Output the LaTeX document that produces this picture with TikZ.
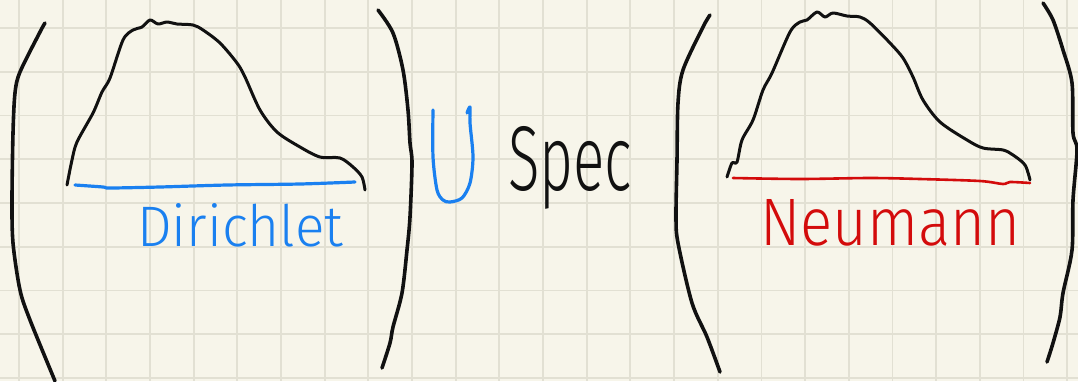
\documentclass[tikz,border=0pt]{standalone}
\usepackage{fontspec}
\usepackage{graphicx}
\newfontfamily\hand{Fira Sans Light}
\definecolor{paper}{HTML}{F7F5EA}
\definecolor{gridc}{HTML}{E2E0D3}
\definecolor{penblue}{HTML}{1A80F0}
\definecolor{penred}{HTML}{D30B0B}
\definecolor{penblack}{HTML}{111111}
\tikzset{
  ink/.style={draw=penblack, line width=3.6pt, line cap=round, line join=round},
  thinink/.style={draw=penblack, line width=3pt, line cap=round, line join=round},
  blueink/.style={draw=penblue, line width=3.2pt, line cap=round, line join=round},
  redink/.style={draw=penred, line width=2.6pt, line cap=round, line join=round},
  word/.style={inner sep=0pt, anchor=base west}
}
\begin{document}
\begin{tikzpicture}[x=1pt,y=-1pt]
\useasboundingbox (0,0) rectangle (1078,381);
\fill[paper] (0,0) rectangle (1078,381);
% grid
\foreach \i in {0,...,24} {
  \draw[gridc, line width=1.8pt] ({19+43.67*\i},0) -- ({19+43.67*\i},381);
}
\foreach \j in {0,...,8} {
  \draw[gridc, line width=1.8pt] (0,{28+43.75*\j}) -- (1078,{28+43.75*\j});
}
% left group
\draw[ink] plot[smooth, tension=0.5] coordinates {(45,23) (40,32) (20,72) (15,93) (13,133) (12,200) (13,243) (20,290) (30,320) (55,381)};
\draw[thinink] plot[smooth, tension=0.5] coordinates {(67,185) (72,160) (77,142) (93,113) (102,92) (110,78) (123,40) (133,30) (142,27) (150,20) (158,24) (167,22) (177,24) (193,25) (203,30) (220,43) (237,63) (245,77) (260,110) (277,132) (300,147) (320,157) (340,158) (353,167) (362,177) (365,190)};
\draw[blueink] plot[smooth, tension=0.5] coordinates {(75,185) (103,187) (110,188) (160,187) (227,185) (300,184) (355,182)};
\node[word, text=penblue] (dir) at (137,246) {\resizebox{206pt}{43pt}{\hand Dirichlet}};
\draw[ink] plot[smooth, tension=0.5] coordinates {(378,10) (393,33) (403,70) (408,110) (410,143) (412,163) (410,217) (407,250) (402,293) (393,327) (390,343) (382,368)};
% union
\draw[blueink] plot[smooth, tension=0.5] coordinates {(433,110) (433,157) (437,190) (443,200) (450,202) (462,198) (470,183) (473,157) (470,123) (470,107) (467,113)};
\node[word, text=penblack] (spec) at (508,190) {\resizebox{124pt}{64pt}{\hand Spec}};
% right group
\draw[ink] plot[smooth, tension=0.5] coordinates {(710,15) (703,27) (683,70) (678,103) (677,160) (676,217) (678,243) (692,303) (707,337) (720,372)};
\draw[thinink] plot[smooth, tension=0.5] coordinates {(727,177) (732,163) (737,162) (742,140) (753,120) (763,90) (772,73) (790,32) (800,22) (807,20) (817,12) (825,17) (833,13) (847,16) (860,17) (870,23) (890,43) (903,58) (913,77) (923,100) (940,122) (967,140) (983,148) (1003,150) (1013,155) (1025,165) (1030,180)};
\draw[redink] plot[smooth, tension=0.5] coordinates {(733,178) (800,179) (870,178) (920,179) (980,181) (1003,184) (1010,182) (1030,183)};
\node[word, text=penred] (neu) at (760,245) {\resizebox{260pt}{46pt}{\hand Neumann}};
\draw[ink] plot[smooth, tension=0.5] coordinates {(1043,3) (1053,20) (1063,50) (1072,83) (1073,133) (1077,150) (1073,200) (1072,250) (1063,293) (1060,317) (1053,343) (1047,362)};
\end{tikzpicture}
\end{document}
